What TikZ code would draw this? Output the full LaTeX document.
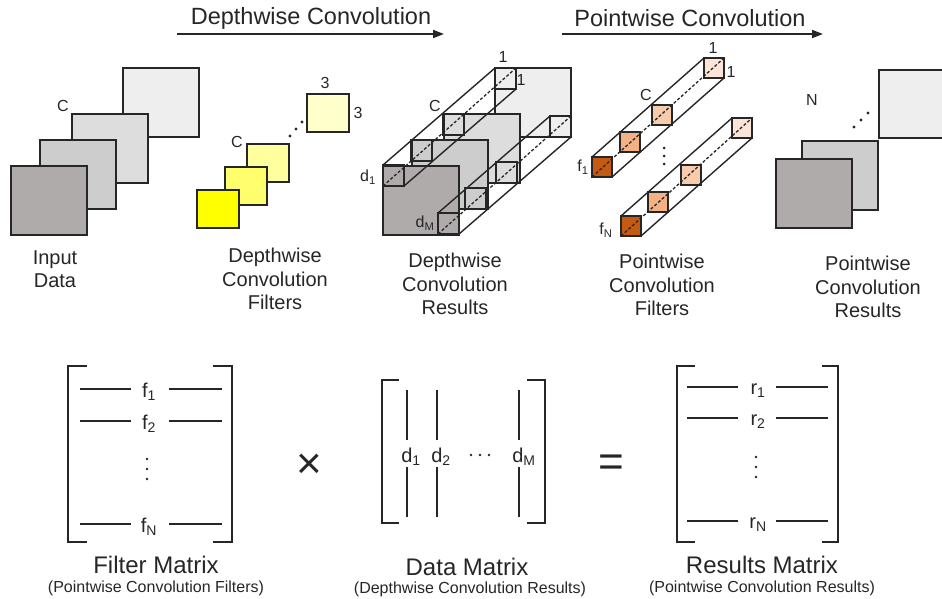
\documentclass[tikz,border=0pt]{standalone}
\usepackage{fontspec}
\setmainfont{Liberation Sans}
\usetikzlibrary{arrows.meta}
\definecolor{ink}{HTML}{262626}
\definecolor{grayA}{HTML}{AFABAB}
\definecolor{grayB}{HTML}{CDCDCD}
\definecolor{grayC}{HTML}{DDDDDD}
\definecolor{grayD}{HTML}{EEEEEE}
\definecolor{yelA}{HTML}{FFFF00}
\definecolor{yelB}{HTML}{FFFF6E}
\definecolor{yelC}{HTML}{FFFF9E}
\definecolor{yelD}{HTML}{FFFFCC}
\definecolor{orgA}{HTML}{C55A11}
\definecolor{orgB}{HTML}{F4B183}
\definecolor{orgC}{HTML}{F8CBAD}
\definecolor{orgD}{HTML}{FBE5D6}

\begin{document}
\begin{tikzpicture}[x=1pt,y=1pt]
\tikzstyle{every node}+=[inner sep=0pt,text=ink]
\tikzset{
  lbl/.style={align=center,font=\fontsize{20}{23.5}\selectfont},
  ttl/.style={font=\fontsize{23.5}{26}\selectfont},
  big/.style={font=\fontsize{24}{26}\selectfont},
  sub/.style={font=\fontsize{16}{18}\selectfont},
  ent/.style={font=\fontsize{20}{22}\selectfont},
  sm/.style={font=\fontsize{16}{18}\selectfont},
  op/.style={font=\fontsize{44}{46}\selectfont},
  sq/.style={draw=ink,line width=1.7pt},
  cube/.style={draw=ink,line width=1.5pt},
  edge/.style={draw=ink,line width=1.4pt},
  hid/.style={draw=ink,line width=1.3pt,dash pattern=on 3pt off 2pt},
  brk/.style={draw=ink,line width=2.2pt},
  row/.style={draw=ink,line width=1.4pt},
  flow/.style={draw=ink,line width=1.8pt,-{Triangle[length=11pt,width=8pt]}}
}
\useasboundingbox (0,0) rectangle (942,-598);

\coordinate (dwL) at (177,-34);
\coordinate (dwR) at (444,-34);
\coordinate (pwL) at (562,-34);
\coordinate (pwR) at (823,-34);
\draw [flow] (dwL) -- (dwR);
\draw [flow] (pwL) -- (pwR);
\node [ttl] (dwT) at (311,-18) {Depthwise Convolution};
\node [ttl] (pwT) at (690,-18) {Pointwise Convolution};

\foreach \s in {0,372}
  \foreach \x/\y/\c in {123/68/grayD,72/114/grayC,40/140/grayB,11/166/grayA}
    \draw [sq,fill=\c] (\x+\s,-\y) rectangle ++(76,-69);
\node [sm] (inC) at (63,-106) {C};
\node [lbl] (inL) at (55,-269) {Input\\Data};

\foreach \x/\y/\c in {307/94/yelD,247/144/yelC,225/167/yelB,197/190/yelA}
  \draw [sq,fill=\c] (\x,-\y) rectangle ++(42,-38);
\foreach \x/\y in {290/136,296/129,302/122}
  \fill [ink] (\x,-\y) circle (1.7);
\node [sm] (dfC) at (237,-142) {C};
\node [sm] (dfH) at (325,-83) {3};
\node [sm] (dfW) at (358,-113) {3};
\node [lbl] (dfL) at (275,-279) {Depthwise\\Convolution\\Filters};

\foreach \x/\y in {383/165,411/140,443/114,495/68,438/213,465/188,496/162,550/116}
  \draw [cube] (\x,-\y) rectangle ++(21,-21);
\draw [edge] (383,-165) -- (495,-68);
\draw [edge] (404,-186) -- (516,-89);
\draw [hid] (383,-186) -- (516,-68);
\draw [edge] (438,-213) -- (550,-116);
\draw [edge] (459,-234) -- (571,-137);
\draw [hid] (438,-234) -- (571,-116);
\node [sm] (drC) at (435,-106) {C};
\node [sm] (drH) at (503,-57) {1};
\node [sm] (drW) at (521,-80) {1};
\node [sm] (dr1) at (368,-177) {d\textsubscript{1}};
\node [sm] (drM) at (425,-223) {d\textsubscript{M}};
\node [lbl] (drL) at (455,-284) {Depthwise\\Convolution\\Results};

\foreach \x/\y/\c in {592/157/orgA,620/132/orgB,652/105/orgC,704/58/orgD,
                      621/216/orgA,648/192/orgB,681/165/orgC,732/118/orgD}
  \draw [cube,fill=\c] (\x,-\y) rectangle ++(20,-20);
\draw [edge] (592,-157) -- (704,-58);
\draw [edge] (612,-177) -- (724,-78);
\draw [hid] (592,-177) -- (724,-58);
\draw [edge] (621,-216) -- (732,-118);
\draw [edge] (641,-236) -- (752,-138);
\draw [hid] (621,-236) -- (752,-118);
\foreach \y in {148,156,164}
  \fill [ink] (664,-\y) circle (1.5);
\node [sm] (pfC) at (646,-95) {C};
\node [sm] (pfH) at (713,-48) {1};
\node [sm] (pfW) at (731,-72) {1};
\node [sm] (pf1) at (583,-167) {f\textsubscript{1}};
\node [sm] (pfN) at (606,-230) {f\textsubscript{N}};
\node [lbl] (pfL) at (662,-285) {Pointwise\\Convolution\\Filters};

\fill [grayD] (879,-70) rectangle (942,-138);
\draw [sq] (942,-70) -- (879,-70) -- (879,-138) -- (942,-138);
\draw [sq,fill=grayB] (802,-141) rectangle ++(76,-69);
\draw [sq,fill=grayA] (776,-159) rectangle ++(76,-69);
\foreach \x/\y in {854/127,861/120,868/113}
  \fill [ink] (\x,-\y) circle (1.7);
\node [sm] (prN) at (812,-100) {N};
\node [lbl] (prL) at (868,-287) {Pointwise\\Convolution\\Results};

\draw [brk] (87,-366) -| (68,-542) -- (87,-542);
\draw [brk] (213,-366) -| (232,-542) -- (213,-542);
\foreach \y/\t in {389/1,421/2,524/N} {
  \draw [row] (80,-\y) -- (131,-\y);
  \draw [row] (169,-\y) -- (222,-\y);
}
\node [ent] (fm1) at (149,-392) {f\textsubscript{1}};
\node [ent] (fm2) at (149,-424) {f\textsubscript{2}};
\node [ent] (fmN) at (149,-527) {f\textsubscript{N}};
\foreach \y in {459,469,479}
  \fill [ink] (147,-\y) circle (1.4);
\node [big] (fmL) at (156,-565) {Filter Matrix};
\node [sub] (fmS) at (156,-588) {(Pointwise Convolution Filters)};

\node [op] (times) at (309,-466) {×};

\draw [brk] (399,-380) -| (382,-523) -- (399,-523);
\draw [brk] (527,-380) -| (545,-523) -- (527,-523);
\foreach \x in {407,437,519} {
  \draw [row] (\x,-390) -- (\x,-440);
  \draw [row] (\x,-467) -- (\x,-517);
}
\node [ent] (dm1) at (411,-457) {d\textsubscript{1}};
\node [ent] (dm2) at (441,-457) {d\textsubscript{2}};
\node [ent] (dmM) at (524,-457) {d\textsubscript{M}};
\foreach \x in {471,480,489}
  \fill [ink] (\x,-455) circle (1.4);
\node [big] (dmL) at (467,-567) {Data Matrix};
\node [sub] (dmS) at (470,-589) {(Depthwise Convolution Results)};

\node [op] (equals) at (611,-466) {=};

\draw [brk] (695,-366) -| (677,-542) -- (695,-542);
\draw [brk] (822,-366) -| (838,-542) -- (822,-542);
\foreach \y in {387,418,521} {
  \draw [row] (687,-\y) -- (738,-\y);
  \draw [row] (776,-\y) -- (828,-\y);
}
\node [ent] (rm1) at (758,-391) {r\textsubscript{1}};
\node [ent] (rm2) at (758,-422) {r\textsubscript{2}};
\node [ent] (rmN) at (758,-525) {r\textsubscript{N}};
\foreach \y in {457,467,477}
  \fill [ink] (756,-\y) circle (1.4);
\node [big] (rmL) at (762,-565) {Results Matrix};
\node [sub] (rmS) at (762,-588) {(Pointwise Convolution Results)};
\end{tikzpicture}
\end{document}
